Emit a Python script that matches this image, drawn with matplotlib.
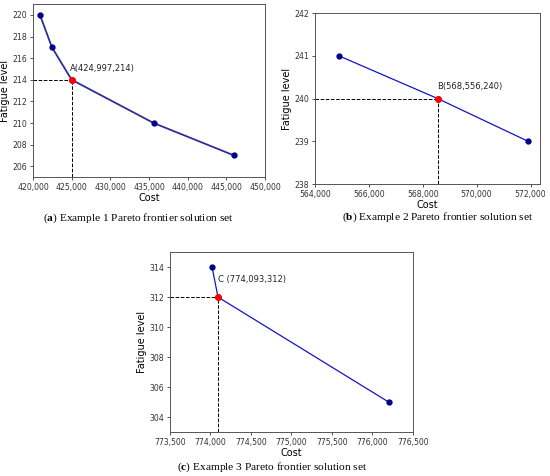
import matplotlib
matplotlib.use("Agg")
import matplotlib.pyplot as plt

plt.rcParams['mathtext.fontset'] = 'custom'
plt.rcParams['mathtext.bf'] = 'Liberation Serif:bold'
plt.rcParams['mathtext.rm'] = 'Liberation Serif'

# Example 1
cost_a = [420900, 422450, 424997, 435600, 446000]
fat_a = [220, 217, 214, 210, 207]
# Example 2
cost_b = [564890, 568556, 571910]
fat_b = [241, 240, 239]
# Example 3
cost_c = [774020, 774093, 776200]
fat_c = [314, 312, 305]

best = {'a': (424997, 214, 'A(424,997,214)'),
        'b': (568556, 240, 'B(568,556,240)'),
        'c': (774093, 312, 'C (774,093,312)')}

xticks_a = [420000, 425000, 430000, 435000, 440000, 445000, 450000]
yticks_a = [206, 208, 210, 212, 214, 216, 218, 220]
xticks_b = [564000, 566000, 568000, 570000, 572000]
yticks_b = [238, 239, 240, 241, 242]
xticks_c = [773500, 774000, 774500, 775000, 775500, 776000, 776500]
yticks_c = [304, 306, 308, 310, 312, 314]

captions = {'a': 'Example 1 Pareto frontier solution set',
            'b': 'Example 2 Pareto frontier solution set',
            'c': 'Example 3 Pareto frontier solution set'}

fig = plt.figure(figsize=(5.5, 4.76), dpi=100)
ax_a = fig.add_axes([0.06, 0.628, 0.4218, 0.3634])
ax_b = fig.add_axes([0.5727, 0.6134, 0.409, 0.359])
ax_c = fig.add_axes([0.309, 0.0924, 0.4418, 0.378])


def draw(ax, cost, fat, key, xticks, yticks, xlim, ylim, line_col, lw):
    ax.plot(cost, fat, color=line_col, lw=lw, zorder=2)
    ax.plot(cost, fat, 'o', color='#00008b', ms=3.5, zorder=3)
    bx, by, txt = best[key]
    ax.plot([bx], [by], 'o', color='red', ms=4, zorder=4)
    ax.plot([xlim[0], bx], [by, by], ls='--', color='black', lw=0.7, zorder=1)
    ax.plot([bx, bx], [ylim[0], by], ls='--', color='black', lw=0.7, zorder=1)
    ax.set_xlim(xlim)
    ax.set_ylim(ylim)
    ax.set_xticks(xticks)
    ax.set_xticklabels(['{:,}'.format(t) for t in xticks])
    ax.set_yticks(yticks)
    ax.tick_params(labelsize=5.6, length=2.5, width=0.6, pad=1.5, colors='#333333')
    for s in ax.spines.values():
        s.set_linewidth(0.7)
        s.set_color('#555555')
    ax.set_xlabel('Cost', fontsize=7, labelpad=1)
    ax.set_ylabel('Fatigue level', fontsize=7, labelpad=2)
    return ax


draw(ax_a, cost_a, fat_a, 'a', xticks_a, yticks_a, (420000, 450000), (205, 221), '#2e2e96', 1.3)
ax_a.annotate(best['a'][2], (best['a'][0], best['a'][1]), xytext=(-1, 6),
              textcoords='offset points', fontsize=6, color='#222222')

draw(ax_b, cost_b, fat_b, 'b', xticks_b, yticks_b, (564000, 572350), (238, 242), '#1515c0', 0.9)
ax_b.annotate(best['b'][2], (best['b'][0], best['b'][1]), xytext=(-0.5, 7),
              textcoords='offset points', fontsize=6, color='#222222')

draw(ax_c, cost_c, fat_c, 'c', xticks_c, yticks_c, (773500, 776500), (303, 315), '#1515c0', 0.9)
ax_c.annotate(best['c'][2], (best['c'][0], best['c'][1]), xytext=(0, 11),
              textcoords='offset points', fontsize=6, color='#222222')

serif = ['Liberation Serif', 'DejaVu Serif']
for key, x, y in [('a', 0.251, 0.541), ('b', 0.796, 0.543), ('c', 0.495, 0.019)]:
    fig.text(x, y, r'($\mathbf{' + key + r'}$) ' + captions[key], fontsize=8.2,
             family=serif, ha='center', va='center')

fig.savefig('out.png', dpi=100)
